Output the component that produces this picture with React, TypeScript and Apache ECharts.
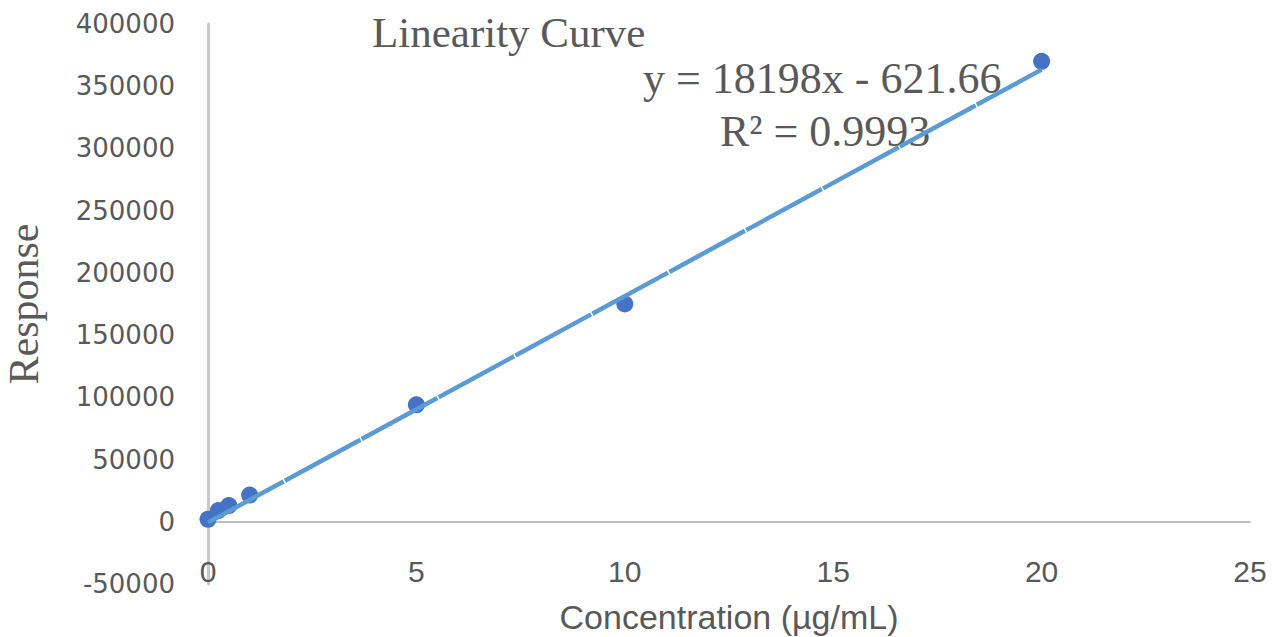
import React, { useEffect, useRef } from "react";
import * as echarts from "echarts";

// Calibration standards: concentration (µg/mL) and detector response
const concentrations = [0, 0.25, 0.5, 1, 5, 10, 20];
const responses = [2000, 9000, 13000, 21500, 94000, 175000, 370000];

// Least-squares fit reported on the chart
const slope = 18198;
const intercept = -621.66;
const rSquared = "0.9993";
const fitRange = [0, 20];

const xTicks = { min: 0, max: 25, interval: 5 };
const yTicks = { min: -50000, max: 400000, interval: 50000 };

const textGrey = "#595959";
const serif = "'Liberation Serif', 'Times New Roman', serif";
const sans = "'Liberation Sans', Arial, sans-serif";
const wide = "'DejaVu Sans', Verdana, sans-serif";

export default function App() {
  const ref = useRef<HTMLDivElement>(null);

  useEffect(() => {
    if (!ref.current) return;
    const chart = echarts.init(ref.current, undefined, { renderer: "svg" });

    const points = concentrations.map((c, i) => [c, responses[i]]);
    const fitLine = fitRange.map((x) => [x, slope * x + intercept]);

    chart.setOption({
      animation: false,
      backgroundColor: "#ffffff",
      title: {
        text: "Linearity Curve",
        left: 367,
        top: 6,
        textStyle: {
          fontFamily: serif,
          fontSize: 43,
          fontWeight: "normal",
          color: textGrey,
        },
      },
      graphic: [
        {
          type: "text",
          left: 643,
          top: 56,
          style: {
            text: `y = ${slope}x - ${Math.abs(intercept)}`,
            font: `44px ${serif}`,
            fill: textGrey,
          },
        },
        {
          type: "text",
          left: 720,
          top: 109,
          style: {
            text: `R² = ${rSquared}`,
            font: `44px ${serif}`,
            fill: textGrey,
          },
        },
      ],
      grid: {
        left: 208,
        right: 25,
        top: 24,
        bottom: 53,
        containLabel: false,
        outerBoundsMode: "none",
      },
      xAxis: {
        type: "value",
        min: xTicks.min,
        max: xTicks.max,
        interval: xTicks.interval,
        name: "Concentration (µg/mL)",
        nameLocation: "middle",
        nameGap: 16,
        nameTextStyle: { fontFamily: sans, fontSize: 34, color: textGrey },
        axisLine: { onZero: true, lineStyle: { color: "#bfbfbf", width: 2 } },
        axisTick: { show: false },
        splitLine: { show: false },
        axisLabel: {
          margin: -28,
          fontFamily: sans,
          fontSize: 30,
          color: textGrey,
          formatter: (v: number) => String(v),
        },
      },
      yAxis: {
        type: "value",
        min: yTicks.min,
        max: yTicks.max,
        interval: yTicks.interval,
        name: "Response",
        nameLocation: "middle",
        nameGap: 163,
        nameTextStyle: { fontFamily: serif, fontSize: 42, color: textGrey },
        axisLine: { show: true, onZero: false, lineStyle: { color: "#c8c8c8", width: 3 } },
        axisTick: { show: false },
        splitLine: { show: false },
        axisLabel: {
          margin: 33,
          fontFamily: wide,
          fontSize: 26,
          color: textGrey,
          formatter: (v: number) => String(v),
        },
      },
      series: [
        {
          type: "scatter",
          data: points,
          symbol: "circle",
          symbolSize: 17,
          itemStyle: { color: "#4472c4", opacity: 1 },
          z: 2,
        },
        {
          type: "line",
          data: fitLine,
          showSymbol: false,
          symbol: "none",
          lineStyle: { color: "#5b9bd5", width: 4.5, type: [86, 1.5] },
          z: 3,
        },
      ],
    });

    return () => chart.dispose();
  }, []);

  return (
    <div
      ref={ref}
      style={{ position: "absolute", left: 0, top: 0, width: 1275, height: 637 }}
    />
  );
}
